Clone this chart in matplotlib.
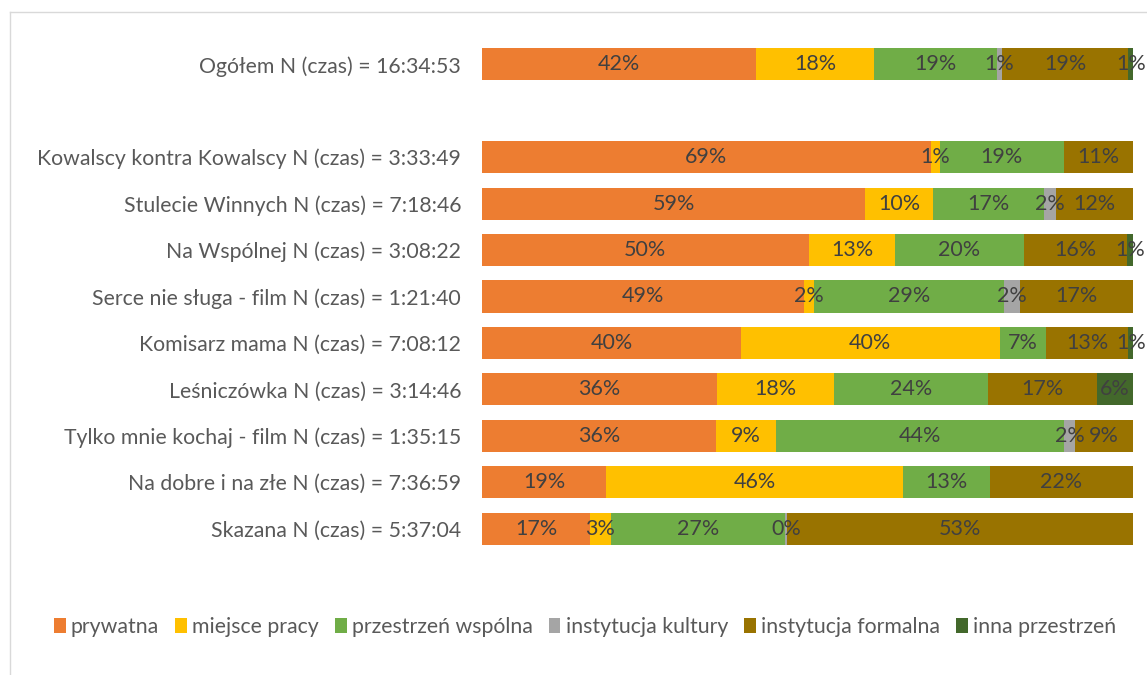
import matplotlib
matplotlib.use("Agg")
import matplotlib.pyplot as plt
from matplotlib.lines import Line2D
from matplotlib.patches import Patch

categories = [
    "Ogółem N (czas) = 16:34:53",
    "",
    "Kowalscy kontra Kowalscy N (czas) = 3:33:49",
    "Stulecie Winnych N (czas) = 7:18:46",
    "Na Wspólnej N (czas) = 3:08:22",
    "Serce nie sługa - film N (czas) = 1:21:40",
    "Komisarz mama N (czas) = 7:08:12",
    "Leśniczówka N (czas) = 3:14:46",
    "Tylko mnie kochaj - film N (czas) = 1:35:15",
    "Na dobre i na złe N (czas) = 7:36:59",
    "Skazana N (czas) = 5:37:04",
]
series_names = ["prywatna", "miejsce pracy", "przestrzeń wspólna",
                "instytucja kultury", "instytucja formalna", "inna przestrzeń"]
prywatna = [42.1, 0, 68.9, 58.9, 50.2, 49.4, 39.8, 36.1, 36.0, 19.1, 16.6]
miejsce_pracy = [18.1, 0, 1.4, 10.4, 13.3, 1.6, 39.7, 17.9, 9.1, 45.6, 3.2]
przestrzen_wspolna = [18.9, 0, 19.1, 17.0, 19.7, 29.2, 7.1, 23.8, 44.3, 13.3, 26.7]
instytucja_kultury = [0.8, 0, 0, 1.9, 0, 2.4, 0, 0, 1.7, 0, 0.4]
instytucja_formalna = [19.4, 0, 10.6, 11.8, 15.9, 17.4, 12.7, 16.6, 8.9, 22.0, 53.1]
inna_przestrzen = [0.7, 0, 0, 0, 0.9, 0, 0.7, 5.6, 0, 0, 0]

series = [prywatna, miejsce_pracy, przestrzen_wspolna,
          instytucja_kultury, instytucja_formalna, inna_przestrzen]
colors = ["#ED7D31", "#FFC000", "#70AD47", "#A5A5A5", "#997300", "#43682B"]

plt.rcParams['font.family'] = ['Lato', 'DejaVu Sans']

W, H = 1147, 675
fig = plt.figure(figsize=(W / 100, H / 100), dpi=100)
ax = fig.add_axes([482 / W, 1 - 552 / H, (1133 - 482) / W, (552 - 41) / H])

ypos = list(range(len(categories)))
left = [0.0] * len(categories)
for vals, col in zip(series, colors):
    ax.barh(ypos, vals, left=left, height=0.69, color=col, linewidth=0)
    for i, v in enumerate(vals):
        if v > 0:
            ax.text(left[i] + v / 2, i, f"{int(v + 0.5):d}%", ha="center", va="center",
                    fontsize=15.5, color="#404040")
    left = [l + v for l, v in zip(left, vals)]

ax.set_xlim(0, 100)
ax.set_ylim(len(categories) - 0.5, -0.5)
ax.set_yticks(ypos)
ax.set_yticklabels(categories, fontsize=15.3, color="#595959")
ax.tick_params(axis="y", length=0, pad=15)
ax.set_xticks([])
for s in ax.spines.values():
    s.set_visible(False)

handles = [Patch(facecolor=c, edgecolor="none") for c in colors]
fig.legend(handles, series_names, loc="center", bbox_to_anchor=(585 / W, 1 - 627 / H),
           ncol=6, frameon=False, fontsize=15.3, handlelength=0.55, handleheight=0.7,
           handletextpad=0.25, columnspacing=0.75, labelcolor="#595959")

# chart frame
fig.add_artist(Line2D([10 / W, 10 / W], [0, 1 - 12 / H], color="#D9D9D9", lw=1))
fig.add_artist(Line2D([10 / W, 1], [1 - 12 / H, 1 - 12 / H], color="#D9D9D9", lw=1))

fig.savefig("out.png", dpi=100)
